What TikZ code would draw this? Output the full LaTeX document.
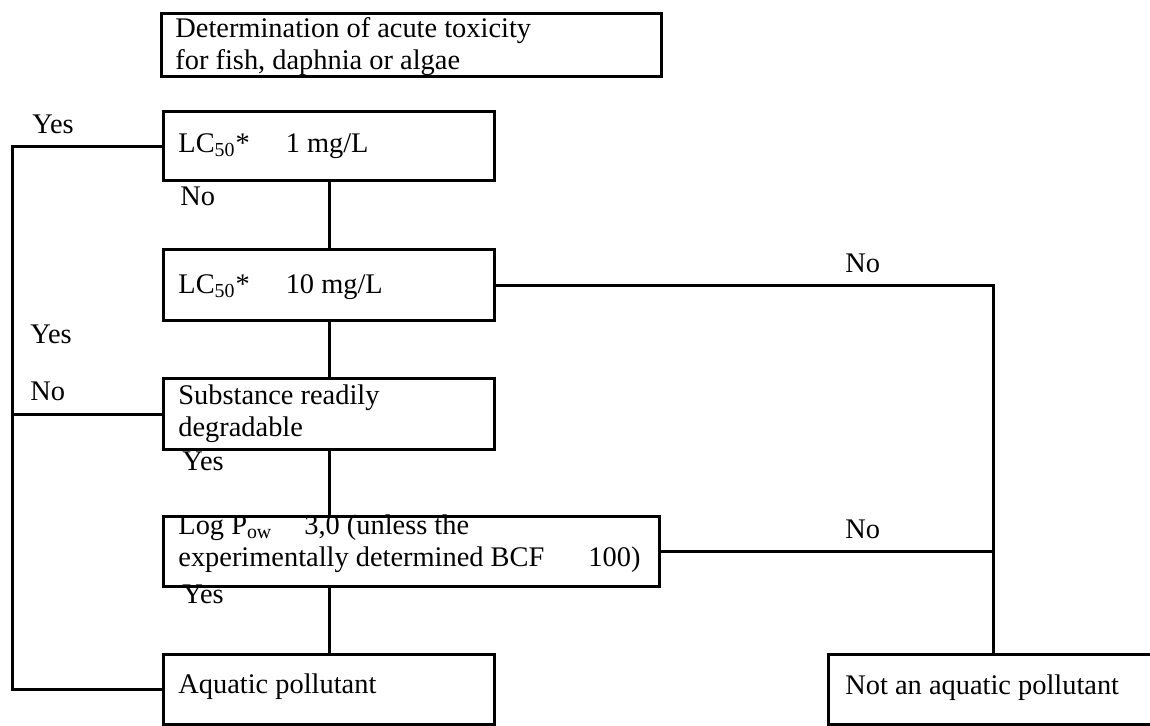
\documentclass[tikz,border=0pt]{standalone}
\usepackage{fontspec}
\setmainfont{Liberation Serif}
\usepackage{tikz}
\usetikzlibrary{positioning,calc}
\definecolor{ink}{HTML}{000000}
\tikzset{
  card/.style={draw=ink, line width=1.5pt, rectangle, inner sep=0pt, anchor=north west},
  txt/.style={font=\fontsize{14.2}{16}\selectfont, text=ink, inner sep=0pt, anchor=base west, align=left},
  wire/.style={draw=ink, line width=1.5pt},
}
\begin{document}
\begin{tikzpicture}[x=0.5pt, y=-0.5pt]
\useasboundingbox (0,0) rectangle (1150,725);
% boxes
\node[card, minimum width=250pt, minimum height=31.5pt] (top) at (160,12) {};
\node[card, minimum width=165.5pt, minimum height=34.5pt] (b1) at (162,110) {};
\node[card, minimum width=165.5pt, minimum height=35.5pt] (b2) at (162,248) {};
\node[card, minimum width=165.5pt, minimum height=35.5pt] (b3) at (162,377) {};
\node[card, minimum width=248pt, minimum height=35pt] (b4) at (162,515) {};
\node[card, minimum width=165.5pt, minimum height=35pt] (b5) at (162,653) {};
\node[card, minimum width=163pt, minimum height=35pt] (b6) at (827,653) {};
% box texts (base = last line)
\node[txt] (ttop) at (175,69) {Determination of acute toxicity\\for fish, daphnia or algae};
\node[txt] (t1) at (178,152) {LC\textsubscript{50}*\hspace{18pt}1 mg/L};
\node[txt] (t2) at (178,293) {LC\textsubscript{50}*\hspace{18pt}10 mg/L};
\node[txt] (t3) at (178,436) {Substance readily\\degradable};
\node[txt] (t4) at (178,566) {Log P\textsubscript{ow}\hspace{16pt}3,0 (unless the\\experimentally determined BCF\hspace{22pt}100)};
\node[txt] (t5) at (178,693) {Aquatic pollutant};
\node[txt] (t6) at (845,694) {Not an aquatic pollutant};
% spines
\coordinate (lt) at (12,0);
\coordinate (rt) at (993,0);
\draw[wire] (b1.west) -- (b1.west -| lt) -- (b5.west -| lt) -- (b5.west);
\draw[wire] (b3.west) -- (b3.west -| lt);
\draw[wire] (b1.south) -- (b2.north);
\draw[wire] (b2.south) -- (b3.north);
\draw[wire] (b3.south) -- (b4.north -| b3.south);
\draw[wire] (b4.south -| b5.north) -- (b5.north);
\draw[wire] (b2.east) -- (b2.east -| rt) -- (rt |- b6.north);
\draw[wire] (b4.east) -- (b4.east -| rt);
% answers
\node[txt] (yes1) at (32,133) {Yes};
\node[txt] (no1) at (180,205) {No};
\node[txt] (no2) at (845,272) {No};
\node[txt] (yes2) at (30,343) {Yes};
\node[txt] (no3) at (30,400) {No};
\node[txt] (yes3) at (182,470) {Yes};
\node[txt] (no4) at (845,538) {No};
\node[txt] (yes4) at (182,603) {Yes};
\end{tikzpicture}
\end{document}
